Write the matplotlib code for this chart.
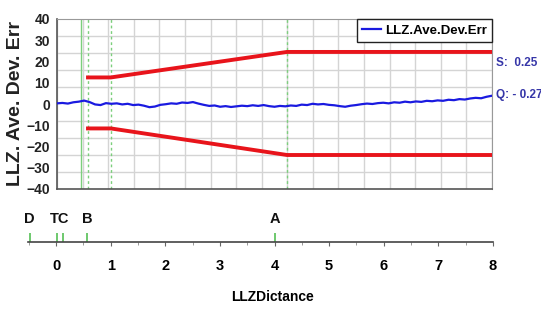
import matplotlib
matplotlib.use("Agg")
import matplotlib.pyplot as plt
from matplotlib.ticker import MultipleLocator, NullFormatter

plt.rcParams["font.family"] = ["Liberation Sans Narrow", "Liberation Sans", "DejaVu Sans"]
plt.rcParams["font.weight"] = "bold"

# ---- data -------------------------------------------------------------
dist = [0.0, 0.1, 0.2, 0.3, 0.4, 0.5, 0.6, 0.7, 0.8, 0.9,
        1.0, 1.1, 1.2, 1.3, 1.4, 1.5, 1.6, 1.7, 1.8, 1.9,
        2.0, 2.1, 2.2, 2.3, 2.4, 2.5, 2.6, 2.7, 2.8, 2.9,
        3.0, 3.1, 3.2, 3.3, 3.4, 3.5, 3.6, 3.7, 3.8, 3.9,
        4.0, 4.1, 4.2, 4.3, 4.4, 4.5, 4.6, 4.7, 4.8, 4.9,
        5.0, 5.1, 5.2, 5.3, 5.4, 5.5, 5.6, 5.7, 5.8, 5.9,
        6.0, 6.1, 6.2, 6.3, 6.4, 6.5, 6.6, 6.7, 6.8, 6.9,
        7.0, 7.1, 7.2, 7.3, 7.4, 7.5, 7.6, 7.7, 7.8, 7.9, 8.0]
dev_err = [0.3, 0.5, 0.2, 0.8, 1.1, 1.6, 0.9, -0.2, -0.5, 0.4,
           0.1, 0.3, -0.2, 0.1, -0.5, -0.3, -0.8, -1.5, -1.2, -0.4,
           -0.1, 0.3, 0.1, 0.7, 0.5, 0.9, 0.2, -0.4, -0.9, -0.7,
           -1.3, -1.0, -1.4, -1.1, -0.8, -1.0, -0.6, -0.9, -0.5, -1.0,
           -1.3, -0.9, -1.1, -0.7, -0.9, -0.3, -0.5, 0.1, -0.2, 0.0,
           -0.4, -0.6, -1.0, -1.3, -0.8, -0.5, -0.1, 0.2, 0.0, 0.4,
           0.6, 0.3, 0.8, 0.6, 1.1, 0.8, 1.2, 1.0, 1.5, 1.3,
           1.7, 1.5, 2.0, 1.8, 2.3, 2.1, 2.6, 2.9, 2.7, 3.4, 3.9]

# tolerance envelope (red)
env_x = [0.57, 0.99, 4.23, 8.0]
env_upper = [12.5, 12.5, 24.5, 24.5]
env_lower = [-11.5, -11.5, -24.0, -24.0]

# green reference lines in the upper panel
ref_solid = [0.45]
ref_dashed = [0.57, 0.99, 4.23]

# marker points on the distance axis
mark_pos = [-0.48, 0.01, 0.12, 0.57, 4.0]
label_names = ["D", "TC", "B", "A"]
label_pos = [-0.48, 0.07, 0.57, 4.0]

stat_text = ["S:  0.25", "Q: - 0.27"]

# ---- figure -----------------------------------------------------------
fig = plt.figure(figsize=(5.41, 3.11), dpi=100)
ax = fig.add_axes([57 / 541, 1 - 189 / 311, 435 / 541, 170 / 311])

ax.set_xlim(0, 8)
ax.set_ylim(-40, 40)
ax.xaxis.set_major_locator(MultipleLocator(8 / 17))
ax.xaxis.set_major_formatter(NullFormatter())
ax.yaxis.set_major_locator(MultipleLocator(10))
ax.yaxis.set_minor_locator(MultipleLocator(8))
ax.tick_params(axis="both", which="both", length=0)
ax.tick_params(axis="y", labelsize=10, pad=5, labelcolor="#222222")
ax.grid(True, axis="x", which="major", color="#d4d4d4", lw=1)
ax.grid(True, axis="y", which="minor", color="#d4d4d4", lw=1)
ax.set_axisbelow(True)
for side in ("top", "right"):
    ax.spines[side].set_color("#999999")
for side in ("left", "bottom"):
    ax.spines[side].set_color("#555555")
    ax.spines[side].set_linewidth(1.2)

for xv in ref_solid:
    ax.axvline(xv, color="#7ccf7c", lw=1, zorder=1)
for xv in ref_dashed:
    ax.axvline(xv, color="#7ccf7c", lw=1, ls=(0, (2, 2)), zorder=1)

ax.plot(env_x, env_upper, color="#e8141b", lw=2.8, zorder=3)
ax.plot(env_x, env_lower, color="#e8141b", lw=2.8, zorder=3)
ax.plot(dist, dev_err, color="#1a1ae0", lw=1.6, zorder=4, label="LLZ.Ave.Dev.Err")

leg = ax.legend(loc="upper right", borderaxespad=0, fontsize=9.5, handlelength=1.4,
                handletextpad=0.3, borderpad=0.4, fancybox=False, framealpha=1)
leg.get_frame().set_edgecolor("#222222")
leg.get_frame().set_linewidth(1)

ax.set_ylabel("LLZ. Ave. Dev. Err", fontsize=14, fontweight="bold", color="#222222")
ax.yaxis.set_label_coords(-0.075, 0.5)

fig.text(496 / 541, 1 - 63 / 311, stat_text[0], color="#3636a8", fontsize=8.5,
         va="center", ha="left")
fig.text(496 / 541, 1 - 95 / 311, stat_text[1], color="#3636a8", fontsize=8.5,
         va="center", ha="left")

# ---- distance axis ----------------------------------------------------
left_px = 56 - 0.52 * 54.6
ax2 = fig.add_axes([left_px / 541, 1 - 242 / 311, (493 - left_px) / 541, 42 / 311])
ax2.set_xlim(-0.52, 8)
ax2.set_ylim(0, 1)
ax2.patch.set_alpha(0)
for side in ("top", "right", "left"):
    ax2.spines[side].set_visible(False)
ax2.spines["bottom"].set_color("#444444")
ax2.spines["bottom"].set_linewidth(1.2)
ax2.set_yticks([])
ax2.xaxis.set_major_locator(MultipleLocator(1))
ax2.xaxis.set_minor_locator(MultipleLocator(0.5))
ax2.tick_params(axis="x", which="major", length=3, color="#666666", labelsize=10.5, pad=9)
ax2.tick_params(axis="x", which="minor", length=2, color="#888888")
ax2.vlines(mark_pos, 0, 0.22, color="#55c055", lw=1.2, clip_on=False)
for name, xv in zip(label_names, label_pos):
    ax2.text(xv, 0.55, name, ha="center", va="center", fontsize=10.5, color="#111111")
ax2.set_xlabel("LLZDictance", fontsize=10, fontweight="bold")
ax2.xaxis.set_label_coords((273 - left_px) / (493 - left_px), -1.15)

fig.savefig("out.png", dpi=100)
